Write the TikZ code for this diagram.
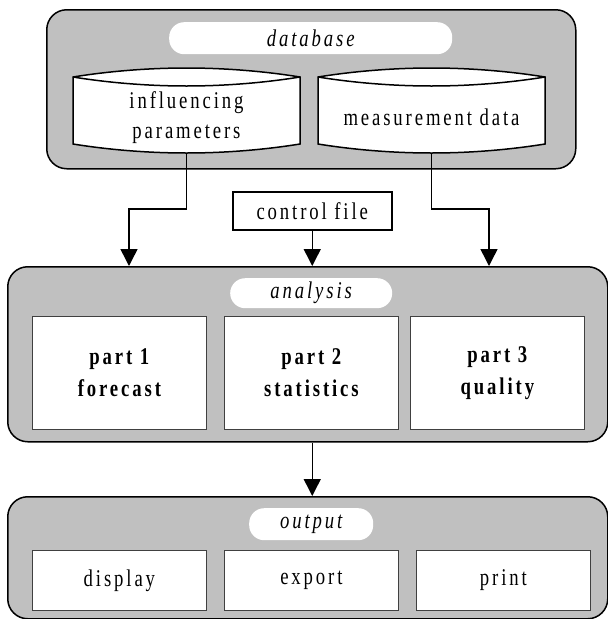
\documentclass[tikz,border=0pt]{standalone}
\usepackage{fontspec}
\setmainfont{Liberation Serif}[FakeStretch=0.78,LetterSpace=12]
\usetikzlibrary{arrows.meta}

\definecolor{grigio}{RGB}{192,192,192}
\newcommand{\dimtesto}{\fontsize{24}{30}\selectfont}

\begin{document}
\begin{tikzpicture}[x=1pt,y=-1pt,
    every node/.append style={font=\dimtesto},
    pannello/.style={draw,line width=1.5pt,fill=grigio,rounded corners=20pt,anchor=north west,inner sep=0pt},
    titolo/.style={fill=white,rounded corners=15pt,anchor=north west,inner sep=0pt,font=\dimtesto\itshape},
    casella/.style={draw=black!75,line width=0.8pt,fill=white,anchor=north west,inner sep=0pt,align=center},
    parte/.style={casella,font=\fontsize{24}{32}\selectfont\bfseries,minimum width=174pt,minimum height=113pt},
    uscita/.style={casella,minimum width=174pt,minimum height=60pt},
    bordo/.style={line width=1.5pt},
    cilindro/.style={inner sep=0pt,align=center,minimum width=227pt,minimum height=72pt},
    freccia/.style={line width=1.5pt,-{Triangle[length=17pt,width=17pt]}}]

    \useasboundingbox (0,0) rectangle (608,619);

    % Pannelli grigi
    \node[pannello,minimum width=529pt,minimum height=159pt] (dbpanel) at (46,9) {};
    \node[pannello,minimum width=600pt,minimum height=175pt] (anpanel) at (7,266) {};
    \node[pannello,minimum width=600pt,minimum height=122pt] (outpanel) at (7,496) {};

    % Titoli
    \node[titolo,minimum width=283pt,minimum height=32pt] (dbtitle) at (169,22) {database};
    \node[titolo,minimum width=162pt,minimum height=30pt] (antitle) at (230,278) {analysis};
    \node[titolo,minimum width=124pt,minimum height=32pt] (outtitle) at (249,508) {output};

    % Cilindri della base dati
    \foreach \cx in {186.5,431.5} {
        \draw[bordo,fill=white] (\cx-113.5,77) -- (\cx-113.5,144)
            parabola bend (\cx,153) (\cx+113.5,144) -- (\cx+113.5,77)
            parabola bend (\cx,68) (\cx-113.5,77) -- cycle;
        \draw[bordo] (\cx-113.5,77) parabola bend (\cx,86) (\cx+113.5,77);
    }
    \node[cilindro] (infl) at (186.5,118) {influencing\\parameters};
    \node[cilindro] (meas) at (431.5,117) {measurement data};

    % File di controllo
    \node[draw,bordo,fill=white,anchor=north west,inner sep=0pt,minimum width=159pt,minimum height=38pt] (ctrl) at (232,191) {control file};

    % Parti dell'analisi
    \node[parte] (part1) at (32,316) {part 1\\forecast};
    \node[parte] (part2) at (224,316) {part 2\\statistics};
    \node[parte] (part3) at (410,316) {part 3\\quality};

    % Uscite
    \node[uscita] (display) at (32,550) {display};
    \node[uscita] (export) at (224,550) {export};
    \node[uscita] (print) at (416,550) {print};

    % Frecce
    \coordinate (g1) at (129,209);
    \coordinate (g2) at (489,209);
    \draw[freccia] (infl.south) |- (g1) -- (g1 |- anpanel.north);
    \draw[freccia] (meas.south) |- (g2) -- (g2 |- anpanel.north);
    \draw[freccia] (ctrl.south) -- (ctrl.south |- anpanel.north);
    \draw[freccia] (ctrl.south |- anpanel.south) -- (ctrl.south |- outpanel.north);
\end{tikzpicture}
\end{document}
